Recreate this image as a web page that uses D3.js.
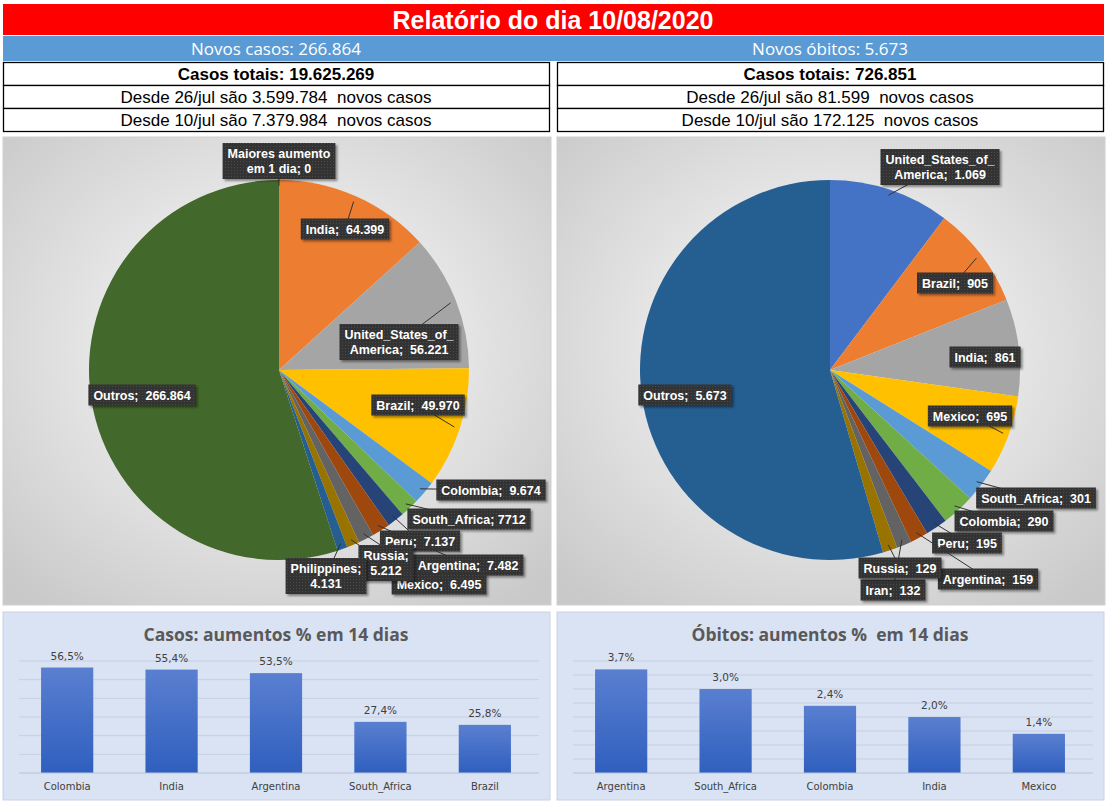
<!DOCTYPE html>
<html><head><meta charset="utf-8">
<script src="https://cdn.jsdelivr.net/npm/d3@7"></script>
<style>body{margin:0;background:#fff}svg{display:block;font-family:"Liberation Sans",Arial,sans-serif}text{white-space:pre}</style>
</head><body><svg id="viz" width="1107" height="802"></svg>
<script>
const casesNames = ["Maiores aumento em 1 dia","India","United_States_of_America","Brazil","Colombia","South_Africa","Peru","Argentina","Mexico","Russia","Philippines","Outros"]
const casesValues = [0,64399,56221,49970,9674,7712,7137,7482,6495,5212,4131,266864]
const casesLabels = [["Maiores aumento","em 1 dia; 0"],["India;  64.399"],["United_States_of_","America;  56.221"],["Brazil;  49.970"],["Colombia;  9.674"],["South_Africa; 7712"],["Peru;  7.137"],["Argentina;  7.482"],["Mexico;  6.495"],["Russia;","5.212"],["Philippines;","4.131"],["Outros;  266.864"]]
const deathNames = ["United_States_of_America","Brazil","India","Mexico","South_Africa","Colombia","Peru","Argentina","Iran","Russia","Outros"]
const deathValues = [1069,905,861,695,301,290,195,159,132,129,5673]
const deathLabels = [["United_States_of_","America;  1.069"],["Brazil;  905"],["India;  861"],["Mexico;  695"],["South_Africa;  301"],["Colombia;  290"],["Peru;  195"],["Argentina;  159"],["Iran;  132"],["Russia;  129"],["Outros;  5.673"]]
const palette = ["#4472C4","#ED7D31","#A5A5A5","#FFC000","#5B9BD5","#70AD47","#264478","#9E480E","#636363","#997300","#255E91","#43682B"]
const barCasesCats = ["Colombia","India","Argentina","South_Africa","Brazil"]
const barCasesVals = [56.5,55.4,53.5,27.4,25.8]
const barDeathCats = ["Argentina","South_Africa","Colombia","India","Mexico"]
const barDeathVals = [3.7,3.0,2.4,2.0,1.4]

const svg = d3.select("svg#viz")
const defs = svg.append("defs")
const rg = defs.append("radialGradient").attr("id","bgPie").attr("cx","50%").attr("cy","45%").attr("r","70%")
rg.append("stop").attr("offset","0%").attr("stop-color","#ffffff")
rg.append("stop").attr("offset","100%").attr("stop-color","#c9c9c9")
const bg = defs.append("linearGradient").attr("id","barG").attr("x1",0).attr("x2",0).attr("y1",0).attr("y2",1)
bg.append("stop").attr("offset","0%").attr("stop-color","#5a7fd0")
bg.append("stop").attr("offset","100%").attr("stop-color","#2f5fbf")
const pat = defs.append("pattern").attr("id","dots").attr("width",3).attr("height",3).attr("patternUnits","userSpaceOnUse")
pat.append("rect").attr("width",3).attr("height",3).attr("fill","#333")
pat.append("rect").attr("width",1).attr("height",1).attr("fill","#4a4a4a")

// header
svg.append("rect").attr("x",3).attr("y",4).attr("width",1101).attr("height",31).attr("fill","#FF0000")
svg.append("text").attr("x",553).attr("y",29).attr("text-anchor","middle").attr("fill","#fff")
  .attr("font-size",25).attr("font-weight","bold").text("Relatório do dia 10/08/2020")
svg.append("rect").attr("x",3).attr("y",36).attr("width",1101).attr("height",25).attr("fill","#5B9BD5")
const info = [
  {x:3, head:"Novos casos: 266.864", rows:["Casos totais: 19.625.269","Desde 26/jul são 3.599.784  novos casos","Desde 10/jul são 7.379.984  novos casos"]},
  {x:557, head:"Novos óbitos: 5.673", rows:["Casos totais: 726.851","Desde 26/jul são 81.599  novos casos","Desde 10/jul são 172.125  novos casos"]}
]
info.forEach(b => {
  svg.append("text").attr("x",b.x+273).attr("y",55).attr("text-anchor","middle").attr("fill","#fff")
    .attr("font-family","Open Sans, sans-serif").attr("font-size",17).text(b.head)
  b.rows.forEach((r,i) => {
    svg.append("rect").attr("x",b.x+0.5).attr("y",62.5+i*23).attr("width",546).attr("height",23)
      .attr("fill","#fff").attr("stroke","#000").attr("stroke-width",1.3)
    svg.append("text").attr("x",b.x+273).attr("y",80+i*23).attr("text-anchor","middle")
      .attr("font-size",17).attr("font-weight",i==0?"bold":"normal").text(r)
  })
})

function drawPie(x0, values, labels, cx, cy, r, labelPos) {
  svg.append("rect").attr("x",x0).attr("y",137).attr("width",548).attr("height",468).attr("fill","url(#bgPie)").attr("stroke","#d0d0d0")
  const pie = d3.pie().sort(null).value(d => d)(values)
  const arc = d3.arc().innerRadius(0).outerRadius(r)
  const g = svg.append("g").attr("transform",`translate(${cx},${cy})`)
  g.selectAll("path").data(pie).join("path").attr("d",arc)
    .attr("fill",(d,i) => palette[i % palette.length]).attr("stroke","none")
  pie.forEach((d,i) => {
    const p = labelPos[i]
    const mid = (d.startAngle+d.endAngle)/2
    const ax = cx+Math.sin(mid)*r*0.97, ay = cy-Math.cos(mid)*r*0.97
    const lines = labels[i]
    svg.append("line").attr("x1",ax).attr("y1",ay).attr("x2",p[0]).attr("y2",p[1]).attr("stroke","#333").attr("stroke-width",1)
    const lg = svg.append("g").attr("transform",`translate(${p[0]},${p[1]})`)
    const box = lg.append("rect").style("filter","drop-shadow(2px 2px 1px rgba(0,0,0,0.4))").attr("fill","url(#dots)")
    const h = lines.length*15+6
    let w = 0
    lines.forEach((l,j) => {
      const t = lg.append("text").attr("x",0).attr("y",-h/2+15+j*15).attr("text-anchor","middle")
        .attr("fill","#fff").attr("font-size",12.5).attr("font-weight","bold")
        .attr("font-family","Liberation Sans Narrow, Liberation Sans, sans-serif").text(l)
      w = Math.max(w, t.node().getComputedTextLength())
    })
    w += 10
    box.attr("x",-w/2).attr("y",-h/2).attr("width",w).attr("height",h)
  })
}
drawPie(3, casesValues, casesLabels, 279, 370, 190,
  [[279,161],[345,229],[399,342],[418,405],[491,490],[469,519],[420,541],[468,565],[439,584],[386,563],[326,576],[142,395]])
drawPie(557, deathValues, deathLabels, 830, 370, 190,
  [[940,167],[955,283],[985,357],[970,416],[1036,498],[1004,521],[967,543],[988,579],[893,590],[900,568],[685,395]])

function drawBars(x0, title, cats, vals, maxV, step) {
  svg.append("rect").attr("x",x0).attr("y",612).attr("width",547).attr("height",188).attr("fill","#DAE3F3").attr("stroke","#c8d2e4")
  svg.append("text").attr("x",x0+273).attr("y",641).attr("text-anchor","middle").attr("fill","#595959")
    .attr("font-family","Open Sans, sans-serif").attr("font-weight","bold").attr("font-size",17.5).text(title)
  const x = d3.scaleBand().domain(cats).range([x0+13,x0+533]).paddingInner(0.5).paddingOuter(0.24)
  const y = d3.scaleLinear().domain([0,maxV]).range([773,661])
  const g = svg.append("g")
  g.selectAll("line.grid").data(d3.range(step,maxV+step/2,step)).join("line")
    .attr("x1",x0+16).attr("x2",x0+536).attr("y1",d=>y(d)).attr("y2",d=>y(d)).attr("stroke","#c6cfdf")
  g.selectAll("rect").data(vals).join("rect").attr("x",(d,i)=>x(cats[i])).attr("width",x.bandwidth())
    .attr("y",d=>y(d)).attr("height",d=>773-y(d)).attr("fill","url(#barG)")
  g.selectAll("text.v").data(vals).join("text").attr("x",(d,i)=>x(cats[i])+x.bandwidth()/2).attr("y",d=>y(d)-8)
    .attr("text-anchor","middle").attr("font-size",10.5).attr("fill","#404040").attr("font-family","DejaVu Sans, sans-serif")
    .text(d=>d.toFixed(1).replace(".",",")+"%")
  svg.append("line").attr("x1",x0+16).attr("x2",x0+536).attr("y1",773).attr("y2",773).attr("stroke","#b8c2d4")
  const ax = svg.append("g").attr("transform","translate(0,773)").call(d3.axisBottom(x).tickSize(0).tickPadding(10))
  ax.select(".domain").remove()
  ax.selectAll("text").attr("font-size",10).attr("fill","#404040").attr("font-family","DejaVu Sans, sans-serif")
}
drawBars(3,"Casos: aumentos % em 14 dias",barCasesCats,barCasesVals,60,10)
drawBars(557,"Óbitos: aumentos %  em 14 dias",barDeathCats,barDeathVals,4,0.5)
</script></body></html>
